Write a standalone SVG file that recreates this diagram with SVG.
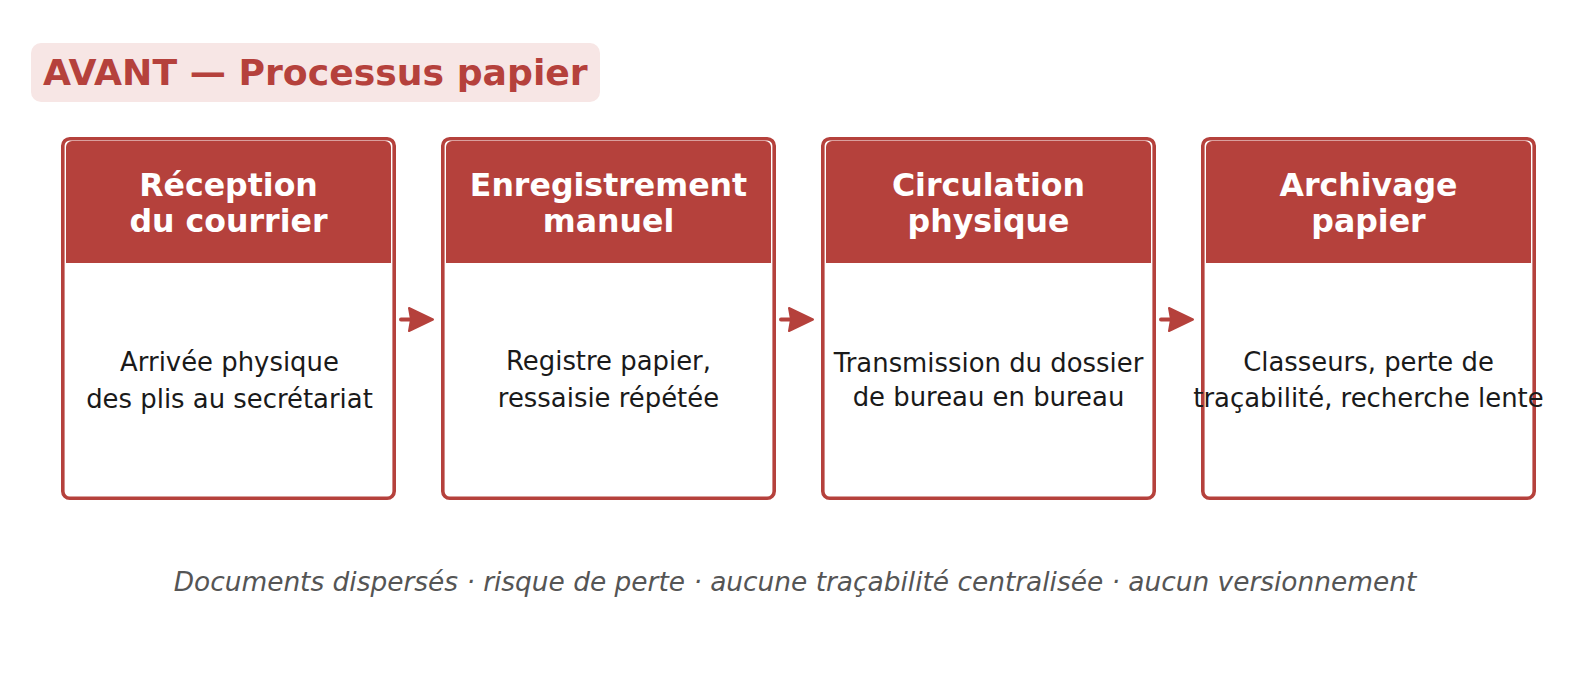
<svg xmlns="http://www.w3.org/2000/svg" width="1589" height="686" viewBox="0 0 1589 686">
<defs>
<style>
.card{fill:#fff;stroke:#b5413c;stroke-width:3.6}
.hdr{fill:#b5413c}
.ht{font-family:"DejaVu Sans",sans-serif;font-weight:bold;font-size:31.6px;fill:#fff;text-anchor:middle}
.bt{font-family:"DejaVu Sans",sans-serif;font-size:25.9px;fill:#1a1a1a;text-anchor:middle}
.conn{stroke:#b5413c;stroke-width:4;stroke-linecap:round;fill:none}
.head{fill:#b5413c;stroke:#b5413c;stroke-width:2;stroke-linejoin:round}
</style>
</defs>
<rect width="1589" height="686" fill="#fff"/>
<g id="title">
<rect x="31" y="43" width="569" height="59" rx="10" fill="#f7e6e5"/>
<text x="43" y="85" font-family="DejaVu Sans, sans-serif" font-weight="bold" font-size="36.2" fill="#b5413c">AVANT — Processus papier</text>
</g>
<g id="node1">
<rect class="card" x="62.8" y="138.8" width="331.4" height="359.4" rx="7"/>
<path class="hdr" d="M66 147 a6 6 0 0 1 6 -6 h313 a6 6 0 0 1 6 6 v116 h-325 z"/>
<text class="ht" x="228.5" y="196">Réception</text>
<text class="ht" x="228.5" y="232">du courrier</text>
<text class="bt" x="229.5" y="371">Arrivée physique</text>
<text class="bt" x="229.5" y="408">des plis au secrétariat</text>
</g>
<g id="node2">
<rect class="card" x="442.8" y="138.8" width="331.4" height="359.4" rx="7"/>
<path class="hdr" d="M446 147 a6 6 0 0 1 6 -6 h313 a6 6 0 0 1 6 6 v116 h-325 z"/>
<text class="ht" x="608.5" y="196">Enregistrement</text>
<text class="ht" x="608.5" y="232">manuel</text>
<text class="bt" x="608.5" y="370">Registre papier,</text>
<text class="bt" x="608.5" y="407">ressaisie répétée</text>
</g>
<g id="node3">
<rect class="card" x="822.8" y="138.8" width="331.4" height="359.4" rx="7"/>
<path class="hdr" d="M826 147 a6 6 0 0 1 6 -6 h313 a6 6 0 0 1 6 6 v116 h-325 z"/>
<text class="ht" x="988.5" y="196">Circulation</text>
<text class="ht" x="988.5" y="232">physique</text>
<text class="bt" x="988.5" y="372">Transmission du dossier</text>
<text class="bt" x="988.5" y="406">de bureau en bureau</text>
</g>
<g id="node4">
<rect class="card" x="1202.8" y="138.8" width="331.4" height="359.4" rx="7"/>
<path class="hdr" d="M1206 147 a6 6 0 0 1 6 -6 h313 a6 6 0 0 1 6 6 v116 h-325 z"/>
<text class="ht" x="1368.5" y="196">Archivage</text>
<text class="ht" x="1368.5" y="232">papier</text>
<text class="bt" x="1368.5" y="371">Classeurs, perte de</text>
<text class="bt" x="1368.5" y="407">traçabilité, recherche lente</text>
</g>
<g id="connectors">
<line class="conn" x1="401" y1="319.5" x2="414" y2="319.5"/>
<polygon class="head" points="409,308 433,319.5 409,331 411,319.5"/>
<line class="conn" x1="781" y1="319.5" x2="794" y2="319.5"/>
<polygon class="head" points="789,308 813,319.5 789,331 791,319.5"/>
<line class="conn" x1="1161" y1="319.5" x2="1174" y2="319.5"/>
<polygon class="head" points="1169,308 1193,319.5 1169,331 1171,319.5"/>
</g>
<text x="795" y="591" font-family="DejaVu Sans, sans-serif" font-style="italic" font-size="26.4" fill="#555" text-anchor="middle">Documents dispersés · risque de perte · aucune traçabilité centralisée · aucun versionnement</text>
</svg>
